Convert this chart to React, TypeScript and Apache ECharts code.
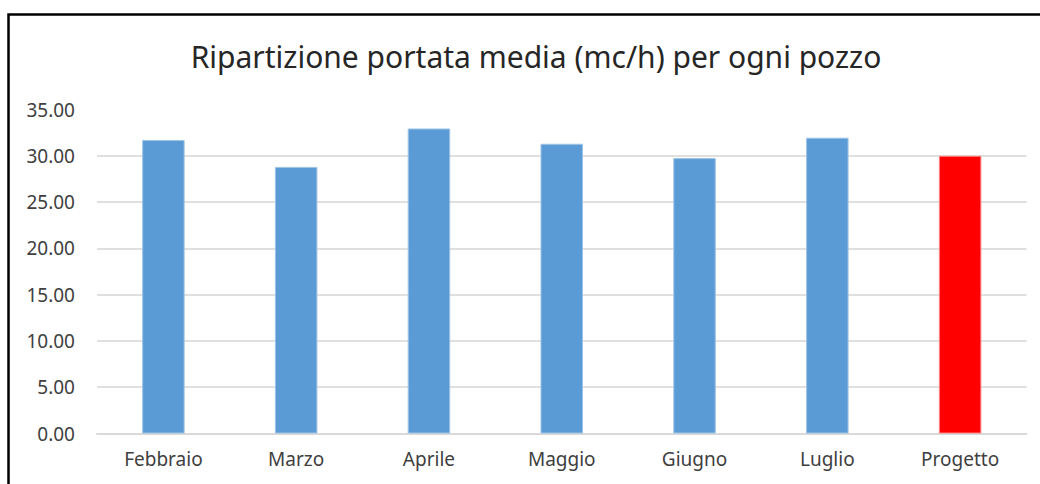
import React, { useEffect, useRef } from "react";
import * as echarts from "echarts";

const categories = ["Febbraio", "Marzo", "Aprile", "Maggio", "Giugno", "Luglio", "Progetto"];
const values = [31.7, 28.8, 32.95, 31.3, 29.75, 31.95, 30.0];
const highlighted = ["Progetto"];
const titleText = "Ripartizione portata media (mc/h) per ogni pozzo";

const FONT = "'Noto Sans', sans-serif";

export default function App() {
  const ref = useRef<HTMLDivElement>(null);
  useEffect(() => {
    document.body.style.margin = "0";
    const chart = echarts.init(ref.current!, null, { renderer: "svg" });
    chart.setOption({
      animation: false,
      backgroundColor: "#ffffff",
      title: {
        text: titleText,
        left: 531,
        top: 36,
        textAlign: "center",
        textStyle: { fontFamily: FONT, fontSize: 30, fontWeight: "normal", color: "#262626" },
      },
      graphic: [
        {
          type: "rect",
          shape: { x: 8.5, y: 14.5, width: 1200, height: 600 },
          style: { fill: "none", stroke: "#000000", lineWidth: 2.5 },
          silent: true,
        },
      ],
      grid: { left: 97, right: 13.5, top: 109.5, bottom: 50.5, containLabel: false },
      xAxis: {
        type: "category",
        data: categories,
        axisLine: { show: true, lineStyle: { color: "#d9d9d9", width: 2 } },
        axisTick: { show: false },
        axisLabel: { fontFamily: FONT, fontSize: 19, color: "#404040", margin: 16 },
      },
      yAxis: {
        type: "value",
        min: 0,
        max: 35,
        interval: 5,
        axisLine: { show: false },
        axisTick: { show: false },
        axisLabel: {
          fontFamily: FONT,
          fontSize: 19,
          color: "#404040",
          margin: 22,
          formatter: (v: number) => v.toFixed(2),
        },
        splitLine: {
          show: true,
          lineStyle: {
            width: 2,
            color: ["#e0e0e0", "#e0e0e0", "#e0e0e0", "#e0e0e0", "#e0e0e0", "#e0e0e0", "#e0e0e0", "rgba(0,0,0,0)"],
          },
        },
      },
      series: [
        {
          type: "bar",
          barWidth: "32%",
          data: values.map((v, i) => ({
            value: v,
            itemStyle: highlighted.includes(categories[i])
              ? { color: "#ff0000", borderColor: "#ff8080", borderWidth: 1 }
              : { color: "#5b9bd5", borderColor: "#9dc3e6", borderWidth: 1 },
          })),
        },
      ],
    });
    return () => chart.dispose();
  }, []);
  return <div ref={ref} style={{ width: 1040, height: 484 }} />;
}
